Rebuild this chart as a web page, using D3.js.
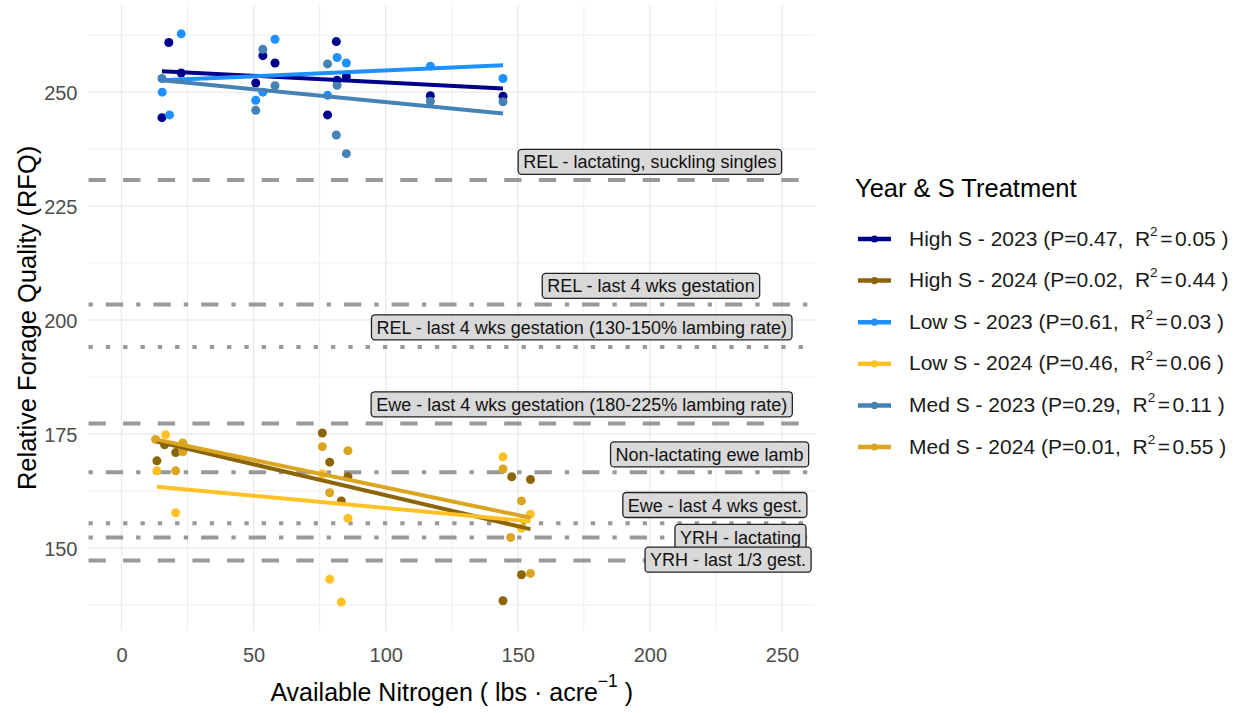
<!DOCTYPE html>
<html><head><meta charset="utf-8">
<script src="https://cdn.jsdelivr.net/npm/d3@7"></script>
<style>
body{margin:0;background:#fff}
svg text{font-family:"Liberation Sans",Arial,sans-serif;white-space:pre}
</style>
</head><body>
<svg id="chart" width="1243" height="713"></svg>
<script>
// ---------------- DATA ----------------
const xTicks = [0, 50, 100, 150, 200, 250];
const yTicks = [150, 175, 200, 225, 250];
const xLimits = [0, 250];

const seriesNames = ["High S - 2023", "High S - 2024", "Low S - 2023", "Low S - 2024", "Med S - 2023", "Med S - 2024"];
const pValues = ["0.47", "0.02", "0.61", "0.46", "0.29", "0.01"];
const r2Values = ["0.05", "0.44", "0.03", "0.06", "0.11", "0.55"];

// observations [Available N, RFQ]
const highS2023 = [[15.3,244.4],[17.9,260.9],[22.6,254.2],[50.8,252.0],[53.5,258.0],[58.1,256.4],[78.0,245.0],[81.3,261.1],[81.6,252.6],[85.1,253.4],[116.9,249.2],[144.4,249.1]];
const highS2024 = [[13.4,169.1],[16.3,172.6],[20.5,170.9],[76.0,175.2],[78.8,168.8],[83.2,160.3],[85.7,165.6],[144.4,138.4],[147.7,165.6],[151.4,144.1],[154.8,165.0]];
const lowS2023  = [[15.4,250.0],[18.2,245.0],[22.6,262.8],[50.8,248.2],[53.5,250.0],[58.1,261.6],[78.0,249.3],[81.6,257.6],[85.1,256.4],[116.9,255.7],[144.4,253.0]];
const lowS2024  = [[13.4,166.9],[16.7,174.8],[20.5,157.7],[76.0,166.2],[78.8,143.1],[83.2,138.1],[85.7,156.5],[144.4,170.0],[151.4,154.3],[154.8,157.4]];
const medS2023  = [[15.3,253.0],[50.8,246.0],[53.5,259.4],[58.1,251.4],[78.0,256.2],[81.3,240.6],[81.6,251.5],[85.1,236.5],[116.9,248.0],[144.4,247.9]];
const medS2024  = [[12.9,173.8],[20.5,166.9],[23.2,173.0],[23.2,171.1],[76.0,172.2],[78.8,162.1],[85.7,171.3],[144.4,167.3],[147.3,152.3],[151.4,160.3],[154.8,144.4]];

// fitted lm lines [start, end]
const fitHighS2023 = [[15.3,254.6],[144.4,250.8]];
const fitHighS2024 = [[13.4,173.3],[154.8,154.1]];
const fitLowS2023  = [[15.3,252.6],[144.4,255.9]];
const fitLowS2024  = [[13.4,163.4],[154.8,155.8]];
const fitMedS2023  = [[15.3,252.6],[144.4,245.3]];
const fitMedS2024  = [[12.9,173.8],[154.8,156.6]];

// reference requirement lines
const refLabels = ["REL - lactating, suckling singles", "REL - last 4 wks gestation", "REL - last 4 wks gestation (130-150% lambing rate)", "Ewe - last 4 wks gestation (180-225% lambing rate)", "Non-lactating ewe lamb", "Ewe - last 4 wks gest.", "YRH - lactating", "YRH - last 1/3 gest."];
const refValues = [230.7, 203.4, 194.1, 177.3, 166.6, 155.4, 152.3, 147.2];
const refTypes  = ["dashed", "dotdash", "dotted", "dashed", "dotdash", "dotted", "dotdash", "dashed"];
const refLabelX = [200.0, 200.4, 174.2, 174.2, 222.6, 224.6, 234.3, 229.6];
const refLabelY = [234.7, 207.5, 198.4, 181.5, 170.5, 159.4, 152.4, 147.4];

// ---------------- STYLE ----------------
const colors = ["#00008B", "#8B6508", "#1E90FF", "#FFC125", "#4682B4", "#DAA520"];
const pointSets = [highS2023, highS2024, lowS2023, lowS2024, medS2023, medS2024];
const fitSets = [fitHighS2023, fitHighS2024, fitLowS2023, fitLowS2024, fitMedS2023, fitMedS2024];
const U = 4.33;
const dashes = {dashed: [4*U, 4*U], dotted: [U, 3*U], dotdash: [U, 3*U, 4*U, 3*U]};

const panel = {left: 88.5, right: 815, top: 5.4, bottom: 630.5};

const svg = d3.select("#chart");

// scales with ggplot-like 5% expansion
const xr = xLimits[1] - xLimits[0];
const x = d3.scaleLinear().domain([xLimits[0] - 0.05*xr, xLimits[1] + 0.05*xr]).range([panel.left, panel.right]);
const allY = pointSets.flat().map(d => d[1]);
const yMin = d3.min(allY), yMax = d3.max(allY), yr = yMax - yMin;
const y = d3.scaleLinear().domain([yMin - 0.05*yr, yMax + 0.05*yr]).range([panel.bottom, panel.top]);

// grid
const grid = svg.append("g");
function minorOf(ticks, dom) {
  const step = ticks[1] - ticks[0];
  const out = [];
  for (let v = ticks[0] - step/2; v <= ticks[ticks.length-1] + step/2; v += step) {
    if (v >= dom[0] && v <= dom[1]) out.push(v);
  }
  return out;
}
const xMinor = minorOf(xTicks, x.domain());
const yMinor = minorOf(yTicks, y.domain());
grid.selectAll(".vxm").data(xMinor).enter().append("line")
  .attr("x1", d => x(d)).attr("x2", d => x(d)).attr("y1", panel.top).attr("y2", panel.bottom)
  .attr("stroke", "#EEEEEE").attr("stroke-width", 1);
grid.selectAll(".hym").data(yMinor).enter().append("line")
  .attr("y1", d => y(d)).attr("y2", d => y(d)).attr("x1", panel.left).attr("x2", panel.right)
  .attr("stroke", "#EEEEEE").attr("stroke-width", 1);
grid.selectAll(".vx").data(xTicks).enter().append("line")
  .attr("x1", d => x(d)).attr("x2", d => x(d)).attr("y1", panel.top).attr("y2", panel.bottom)
  .attr("stroke", "#EBEBEB").attr("stroke-width", 1.4);
grid.selectAll(".hy").data(yTicks).enter().append("line")
  .attr("y1", d => y(d)).attr("y2", d => y(d)).attr("x1", panel.left).attr("x2", panel.right)
  .attr("stroke", "#EBEBEB").attr("stroke-width", 1.4);

// axes
const xAxis = svg.append("g").attr("transform", `translate(0,${panel.bottom})`)
  .call(d3.axisBottom(x).tickValues(xTicks).tickSize(0).tickPadding(0).tickFormat(d3.format("d")));
xAxis.select(".domain").remove();
xAxis.selectAll("text").attr("y", 31).attr("dy", null)
  .attr("fill", "#4D4D4D").style("font-size", "20px");

const yAxis = svg.append("g").attr("transform", `translate(77.5,0)`)
  .call(d3.axisLeft(y).tickValues(yTicks).tickSize(0).tickPadding(0).tickFormat(d3.format("d")));
yAxis.select(".domain").remove();
yAxis.selectAll("text").attr("x", 0).attr("dy", "0.36em")
  .attr("fill", "#4D4D4D").style("font-size", "20px");

// axis titles
const xt = svg.append("text").attr("x", (panel.left + panel.right)/2).attr("y", 701)
  .attr("text-anchor", "middle").style("font-size", "25px").attr("fill", "#000");
xt.append("tspan").text("Available Nitrogen ( lbs \u00B7 acre");
xt.append("tspan").text("\u22121").style("font-size", "17.5px").attr("dy", -14);
xt.append("tspan").text(" )").attr("dy", 14);

svg.append("text").attr("transform", `translate(36,${(panel.top+panel.bottom)/2}) rotate(-90)`)
  .attr("text-anchor", "middle").style("font-size", "25.5px").attr("fill", "#000")
  .text("Relative Forage Quality (RFQ)");

// reference lines
const refG = svg.append("g");
refValues.forEach((v, i) => {
  refG.append("line")
    .attr("x1", panel.left).attr("x2", panel.right).attr("y1", y(v)).attr("y2", y(v))
    .attr("stroke", "#999999").attr("stroke-width", 4)
    .attr("stroke-dasharray", dashes[refTypes[i]].join(","));
});

// points
pointSets.forEach((pts, i) => {
  svg.append("g").selectAll("circle").data(pts).enter().append("circle")
    .attr("cx", d => x(d[0])).attr("cy", d => y(d[1])).attr("r", 4.5)
    .attr("fill", colors[i]);
});

// fits
const lineGen = d3.line().x(d => x(d[0])).y(d => y(d[1]));
fitSets.forEach((f, i) => {
  svg.append("path").attr("d", lineGen(f)).attr("stroke", colors[i])
    .attr("stroke-width", 4).attr("fill", "none");
});

// labels
refLabels.forEach((lab, i) => {
  const g = svg.append("g");
  const cx = x(refLabelX[i]), cy = y(refLabelY[i]);
  const rect = g.append("rect");
  const t = g.append("text").attr("x", cx).attr("y", cy + 6.6).attr("text-anchor", "middle")
    .style("font-size", "18px").attr("fill", "#111").text(lab);
  const w = t.node().getComputedTextLength() + 10;
  rect.attr("x", cx - w/2).attr("y", cy - 12.5).attr("width", w).attr("height", 25)
    .attr("rx", 3.5).attr("ry", 3.5)
    .attr("fill", "#D9D9D9").attr("stroke", "#222").attr("stroke-width", 1.3);
});

// legend
const leg = svg.append("g");
leg.append("text").attr("x", 855).attr("y", 197).style("font-size", "25.5px").attr("fill", "#000")
  .text("Year & S Treatment");
seriesNames.forEach((nm, i) => {
  const cy = 239 + i*41.6;
  leg.append("line").attr("x1", 858).attr("x2", 891).attr("y1", cy).attr("y2", cy)
    .attr("stroke", colors[i]).attr("stroke-width", 4.5);
  leg.append("circle").attr("cx", 874.5).attr("cy", cy).attr("r", 3.6).attr("fill", colors[i]);
  const t = leg.append("text").attr("x", 909).attr("y", cy + 6.5).style("font-size", "21px").attr("fill", "#1a1a1a");
  t.append("tspan").text(`${nm} (P=${pValues[i]},  R`);
  t.append("tspan").text("2").style("font-size", "13.6px").attr("dy", -10);
  t.append("tspan").text("=").attr("dy", 10).attr("dx", 2.5);
  t.append("tspan").text(`${r2Values[i]} )`).attr("dx", 2.5);
});
</script>
</body></html>
